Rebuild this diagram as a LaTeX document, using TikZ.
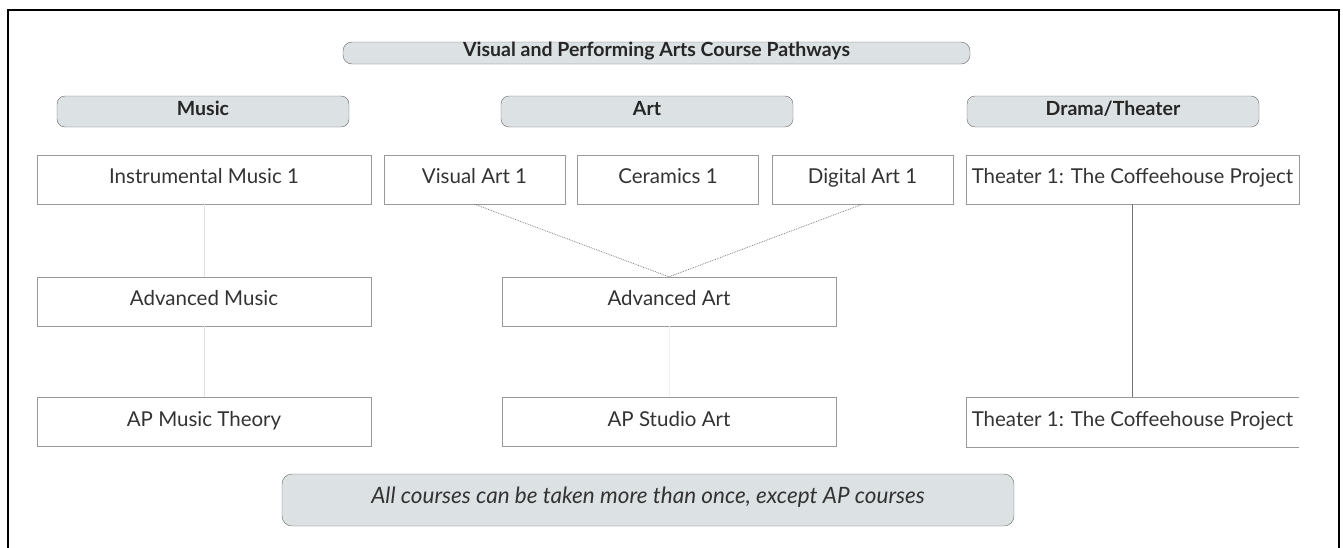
\documentclass[tikz,border=0pt]{standalone}
\usepackage{fontspec}
\setmainfont{Lato}
\definecolor{hdrfill}{HTML}{DCE1E3}
\definecolor{txtgray}{HTML}{333333}
\definecolor{boxline}{HTML}{999999}
\begin{document}
\begin{tikzpicture}[x=1pt,y=-1pt,
    header/.style={draw=gray!80!black, fill=hdrfill, rounded corners=8pt, minimum height=31pt, minimum width=292pt, inner sep=0pt, text height=0.92em, text depth=0.18em, font=\fontsize{19.5}{22}\selectfont\bfseries, text=black!85},
    course/.style={draw=boxline, minimum height=49pt, minimum width=334pt, inner sep=0pt, text height=1em, text depth=0.17em, font=\fontsize{20.5}{24}\selectfont, text=txtgray},
    small/.style={course, minimum width=181pt}]
    \useasboundingbox (0,0) rectangle (1343,547);
    \draw[line width=2pt] (8,560) -- (8,10) -- (1339,10) -- (1339,560);
    \node[header, minimum width=627pt, minimum height=22pt, rounded corners=9pt] (title) at (656.5,53) {Visual and Performing Arts Course Pathways};
    \node[header] (music) at (203,111.5) {Music};
    \node[header] (art) at (647,111.5) {Art};
    \node[header] (drama) at (1113,111.5) {Drama/Theater};
    % first year
    \node[course] (im1) at (204,179.5) {Instrumental Music 1};
    \node[small] (va1) at (474.5,179.5) {Visual Art 1};
    \node[small] (cer1) at (668,179.5) {Ceramics 1};
    \node[small] (da1) at (862.5,179.5) {Digital Art 1};
    \node[course, minimum width=333pt] (th1) at (1132.5,179.5) {Theater 1: The Coffeehouse Project};
    % advanced
    \node[course] (advmusic) at (204,301.5) {Advanced Music};
    \node[course] (advart) at (669,301.5) {Advanced Art};
    % AP
    \node[course] (apmusic) at (204,422) {AP Music Theory};
    \node[course] (apart) at (669,422) {AP Studio Art};
    \node[course, draw=none, minimum width=333pt] (th2) at (1132.5,422) {Theater 1: The Coffeehouse Project};
    \draw[boxline] (th2.north east) -- (th2.north west) -- (th2.south west) -- (th2.south east);
    \draw[black!12] (im1) -- (advmusic);
    \draw[black!12] (advmusic) -- (apmusic);
    \draw[black!6] (advart) -- (apart);
    \draw[gray, densely dotted, line width=0.8pt] (va1.south) -- (advart.north);
    \draw[gray, densely dotted, line width=0.8pt] (da1.south) -- (advart.north);
    \draw[gray!90!black] (th1) -- (th2);
    \node[header, minimum width=732pt, minimum height=52pt, rounded corners=10pt, font=\fontsize{22.5}{26}\selectfont\itshape, text=txtgray] (note) at (648,500) {All courses can be taken more than once, except AP courses};
\end{tikzpicture}
\end{document}
